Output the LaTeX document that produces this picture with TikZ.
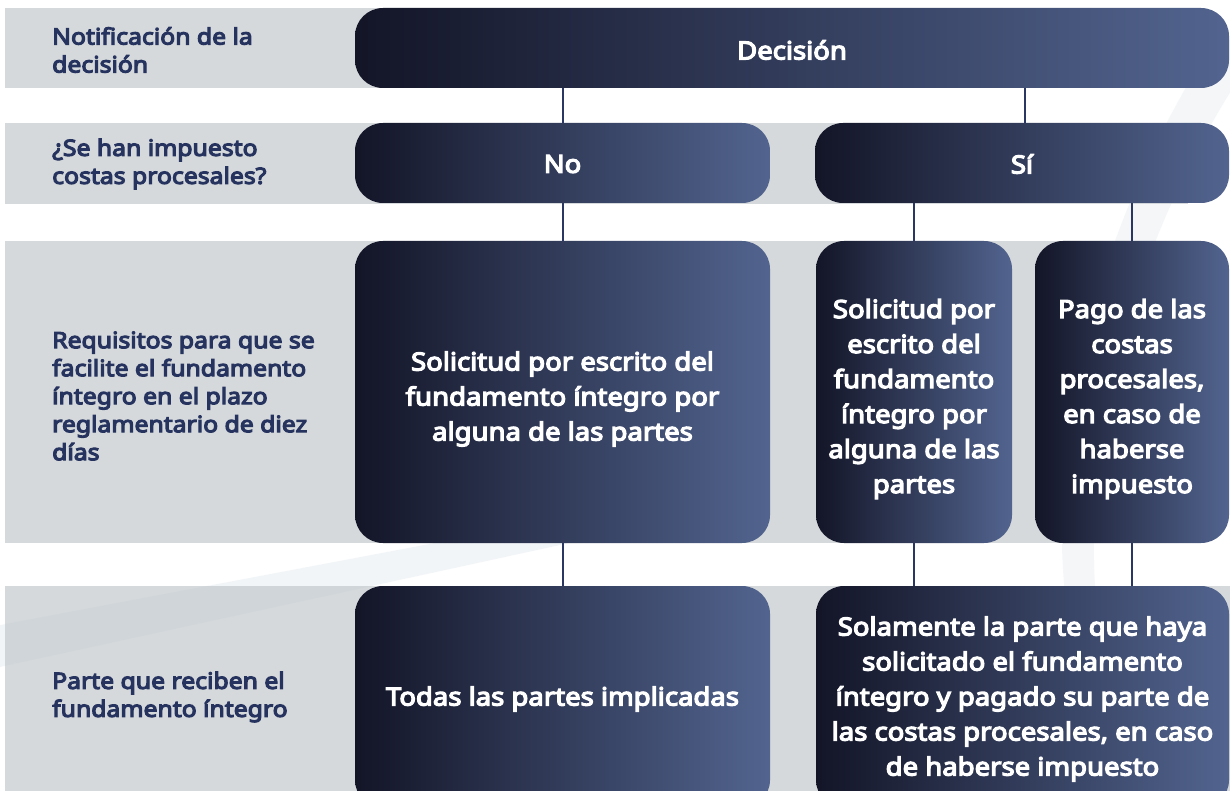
\documentclass[tikz,border=0pt]{standalone}
\usepackage{fontspec}
\setmainfont{Noto Sans}[BoldFont={Noto Sans},BoldFeatures={FakeBold=5,FakeStretch=1.1}]
\definecolor{boxL}{HTML}{131527}
\definecolor{boxR}{HTML}{52648F}
\definecolor{band}{HTML}{D5D9DB}
\definecolor{lbl}{HTML}{26335F}
\definecolor{conn}{HTML}{2B3763}
\definecolor{swoosh}{HTML}{B4C6D4}
\begin{document}
\begin{tikzpicture}[x=1pt,y=-1pt,
  bandrow/.style={fill=band,draw=none},
  flowbox/.style={rounded corners=28pt,left color=boxL,right color=boxR,draw=none,inner sep=0pt,anchor=center},
  boxtext/.style={text=white,font=\bfseries\fontsize{25}{35}\selectfont,align=center,inner sep=0pt,anchor=center},
  rowlabel/.style={text=lbl,font=\bfseries\fontsize{22.5}{28}\selectfont,align=left,anchor=west,inner sep=0pt},
  link/.style={draw=conn,line width=2pt}]
\useasboundingbox (0,0) rectangle (1230,791);
\clip (0,0) rectangle (1230,791);
\fill[white] (0,0) rectangle (1230,791);
% grey rows
\fill[bandrow] (5,8) rectangle (1188,88);
\fill[bandrow] (5,123) rectangle (1188,204);
\fill[bandrow] (5,241) rectangle (1188,543);
\fill[bandrow] (5,586) rectangle (1230,791);
% faint swooshes
\fill[swoosh,opacity=0.16] (-5,626) -- (620,508) -- (620,532) -- (-5,668) -- cycle;
\fill[swoosh,opacity=0.14] (1215,40) .. controls (1110,200) and (1040,420) .. (1068,620)
   -- (1098,620) .. controls (1075,420) and (1150,200) .. (1265,40) -- cycle;
% row labels
\node[rowlabel] (l1) at (52,50) {Notificación de la\\decisión};
\node[rowlabel] (l2) at (52,164) {¿Se han impuesto\\costas procesales?};
\node[rowlabel] (l3) at (52,396) {Requisitos para que se\\facilite el fundamento\\íntegro en el plazo\\reglamentario de diez\\días};
\node[rowlabel] (l4) at (52,697) {Parte que reciben el\\fundamento íntegro};
% boxes
\node[flowbox,minimum width=874pt,minimum height=80pt] (dec) at (792,48) {};
\node[flowbox,minimum width=415pt,minimum height=80pt] (no) at (562.5,163) {};
\node[flowbox,minimum width=414pt,minimum height=80pt] (si) at (1022,163) {};
\node[flowbox,minimum width=415pt,minimum height=302pt] (reqno) at (562.5,392) {};
\node[flowbox,minimum width=196pt,minimum height=302pt] (reqsia) at (914,392) {};
\node[flowbox,minimum width=194pt,minimum height=302pt] (reqsib) at (1132,392) {};
\node[flowbox,minimum width=415pt,minimum height=222pt] (partno) at (562.5,697) {};
\node[flowbox,minimum width=413pt,minimum height=222pt] (partsi) at (1022.5,697) {};
% box texts
\node[boxtext] (tdec) at ([yshift=-2pt]dec.center) {Decisión};
\node[boxtext] (tno) at ([yshift=-1pt]no.center) {No};
\node[boxtext] (tsi) at ([yshift=-1pt]si.center) {Sí};
\node[boxtext] (treqno) at ([yshift=-7pt]reqno.center)
  {Solicitud por escrito del\\fundamento íntegro por\\alguna de las partes};
\node[boxtext] (treqsia) at ([yshift=-7pt]reqsia.center)
  {Solicitud por\\escrito del\\fundamento\\íntegro por\\alguna de las\\partes};
\node[boxtext] (treqsib) at ([yshift=-7pt]reqsib.center)
  {Pago de las\\costas\\procesales,\\en caso de\\haberse\\impuesto};
\node[boxtext] (tpartno) at ([yshift=-2pt]partno.center) {Todas las partes implicadas};
\node[boxtext] (tpartsi) at ([yshift=-2pt]partsi.center)
  {Solamente la parte que haya\\solicitado el fundamento\\íntegro y pagado su parte de\\las costas procesales, en caso\\de haberse impuesto};
% connectors
\draw[link] (no.north) -- (no.north |- dec.south);
\draw[link] ([xshift=3pt]si.north) -- ([xshift=3pt]si.north |- dec.south);
\draw[link] (reqno.north) -- (reqno.north |- no.south);
\draw[link] (reqsia.north) -- (reqsia.north |- si.south);
\draw[link] (reqsib.north) -- (reqsib.north |- si.south);
\draw[link] (partno.north) -- (partno.north |- reqno.south);
\draw[link] (reqsia.south) -- (reqsia.south |- partsi.north);
\draw[link] (reqsib.south) -- (reqsib.south |- partsi.north);
\end{tikzpicture}
\end{document}
